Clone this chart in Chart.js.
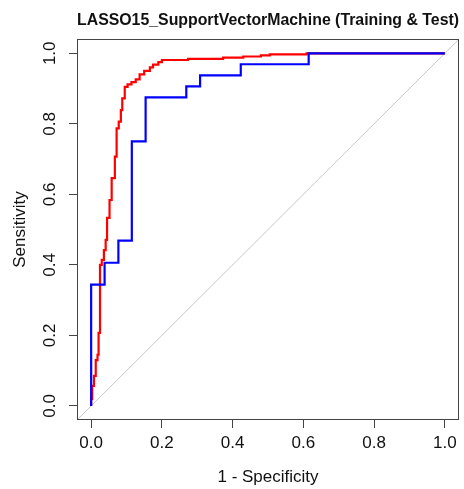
<!DOCTYPE html>
<html>
<head>
<meta charset="utf-8">
<script src="https://cdn.jsdelivr.net/npm/chart.js@4.4.1/dist/chart.umd.min.js"></script>
<style>
  html, body { margin: 0; padding: 0; background: #fff; }
</style>
</head>
<body>
<canvas id="rocChart" width="464" height="489"></canvas>
<script>
// ROC points (1 - specificity, sensitivity), drawn as steps
const trainFpr  = [0, 0, 0.003, 0.008, 0.013, 0.018, 0.021, 0.025, 0.030, 0.036, 0.041, 0.045, 0.052, 0.058, 0.067, 0.072, 0.078, 0.084, 0.088, 0.095, 0.103, 0.114, 0.126, 0.137, 0.150, 0.166, 0.175, 0.190, 0.200, 0.274, 0.373, 0.430, 0.480, 0.505, 0.609, 1];
const trainSens = [0, 0.02, 0.057, 0.085, 0.130, 0.145, 0.207, 0.400, 0.414, 0.442, 0.471, 0.533, 0.584, 0.646, 0.707, 0.787, 0.806, 0.839, 0.872, 0.905, 0.912, 0.918, 0.926, 0.940, 0.950, 0.960, 0.968, 0.975, 0.981, 0.984, 0.988, 0.991, 0.994, 0.997, 1.0, 1];
const testFpr   = [0, 0, 0.038, 0.077, 0.115, 0.154, 0.269, 0.308, 0.423, 0.615, 1];
const testSens  = [0, 0.344, 0.406, 0.469, 0.75, 0.875, 0.906, 0.9375, 0.969, 1, 1];

const chanceLine = [-0.04, 1.04];
const tickValues = [0, 0.2, 0.4, 0.6, 0.8, 1.0];
const tickLabels = ['0.0', '0.2', '0.4', '0.6', '0.8', '1.0'];

const FONT = '"Liberation Sans", Arial, sans-serif';
const INK = '#111';

function toPoints(xs, ys) {
    return xs.map((x, i) => ({ x: x, y: ys[i] }));
}

// box around the plot + rotated y tick labels (R style)
const rStylePlugin = {
    id: 'rStyle',
    afterDraw(chart) {
        const ctx = chart.ctx;
        const a = chart.chartArea;
        ctx.save();
        ctx.strokeStyle = '#444';
        ctx.lineWidth = 1;
        ctx.strokeRect(Math.round(a.left) + 0.5, Math.round(a.top) + 0.5,
                       Math.round(a.right - a.left) - 1, Math.round(a.bottom - a.top) - 1);

        const ys = chart.scales.y;
        ctx.fillStyle = INK;
        ctx.font = '17px ' + FONT;
        ctx.textAlign = 'center';
        ctx.textBaseline = 'middle';
        ys.ticks.forEach((t, i) => {
            const py = ys.getPixelForValue(t.value);
            ctx.save();
            ctx.translate(50, py);
            ctx.rotate(-Math.PI / 2);
            ctx.fillText(tickLabels[i], 0, 0);
            ctx.restore();
        });
        ctx.restore();
    }
};

const setTicks = scale => { scale.ticks = tickValues.map(v => ({ value: v })); };

new Chart(document.getElementById('rocChart'), {
    type: 'scatter',
    data: {
        datasets: [{
            label: 'Test',
            data: toPoints(testFpr, testSens),
            showLine: true,
            stepped: 'before',
            borderColor: '#0000ff',
            borderWidth: 2.2,
            pointRadius: 0,
            order: 1
        }, {
            label: 'Training',
            data: toPoints(trainFpr, trainSens),
            showLine: true,
            stepped: 'before',
            borderColor: '#ff0000',
            borderWidth: 2.2,
            pointRadius: 0,
            order: 2
        }, {
            label: 'Chance',
            data: toPoints(chanceLine, chanceLine),
            showLine: true,
            borderColor: '#c8c8c8',
            borderWidth: 1,
            pointRadius: 0,
            order: 3
        }]
    },
    options: {
        responsive: false,
        animation: false,
        devicePixelRatio: 1,
        layout: { padding: { left: 0, right: 5, top: 0, bottom: 0 } },
        scales: {
            x: {
                type: 'linear',
                min: -0.04,
                max: 1.04,
                afterBuildTicks: setTicks,
                afterFit: s => { s.height = 69; },
                border: { display: false },
                grid: { drawOnChartArea: false, drawTicks: true, tickLength: 8, tickColor: '#444', tickWidth: 1 },
                ticks: {
                    autoSkip: false, maxRotation: 0, padding: 5,
                    color: INK, font: { family: FONT, size: 17 },
                    callback: (v, i) => tickLabels[i]
                },
                title: {
                    display: true, text: '1 - Specificity', color: INK,
                    font: { family: FONT, size: 17 }, padding: { top: 0, bottom: 1 }
                }
            },
            y: {
                type: 'linear',
                min: -0.04,
                max: 1.04,
                afterBuildTicks: setTicks,
                afterFit: s => { s.width = 77; },
                border: { display: false },
                grid: { drawOnChartArea: false, drawTicks: true, tickLength: 8, tickColor: '#444', tickWidth: 1 },
                ticks: { display: false },
                title: {
                    display: true, text: 'Sensitivity', color: INK,
                    font: { family: FONT, size: 17 }, padding: { top: 10, bottom: 0 }
                }
            }
        },
        plugins: {
            legend: { display: false },
            tooltip: { enabled: false },
            title: {
                display: true,
                fullSize: false,
                text: 'LASSO15_SupportVectorMachine (Training & Test)',
                color: INK,
                font: { family: FONT, size: 16, weight: 'bold' },
                padding: { top: 11, bottom: 9 }
            }
        }
    },
    plugins: [rStylePlugin]
});
</script>
</body>
</html>
